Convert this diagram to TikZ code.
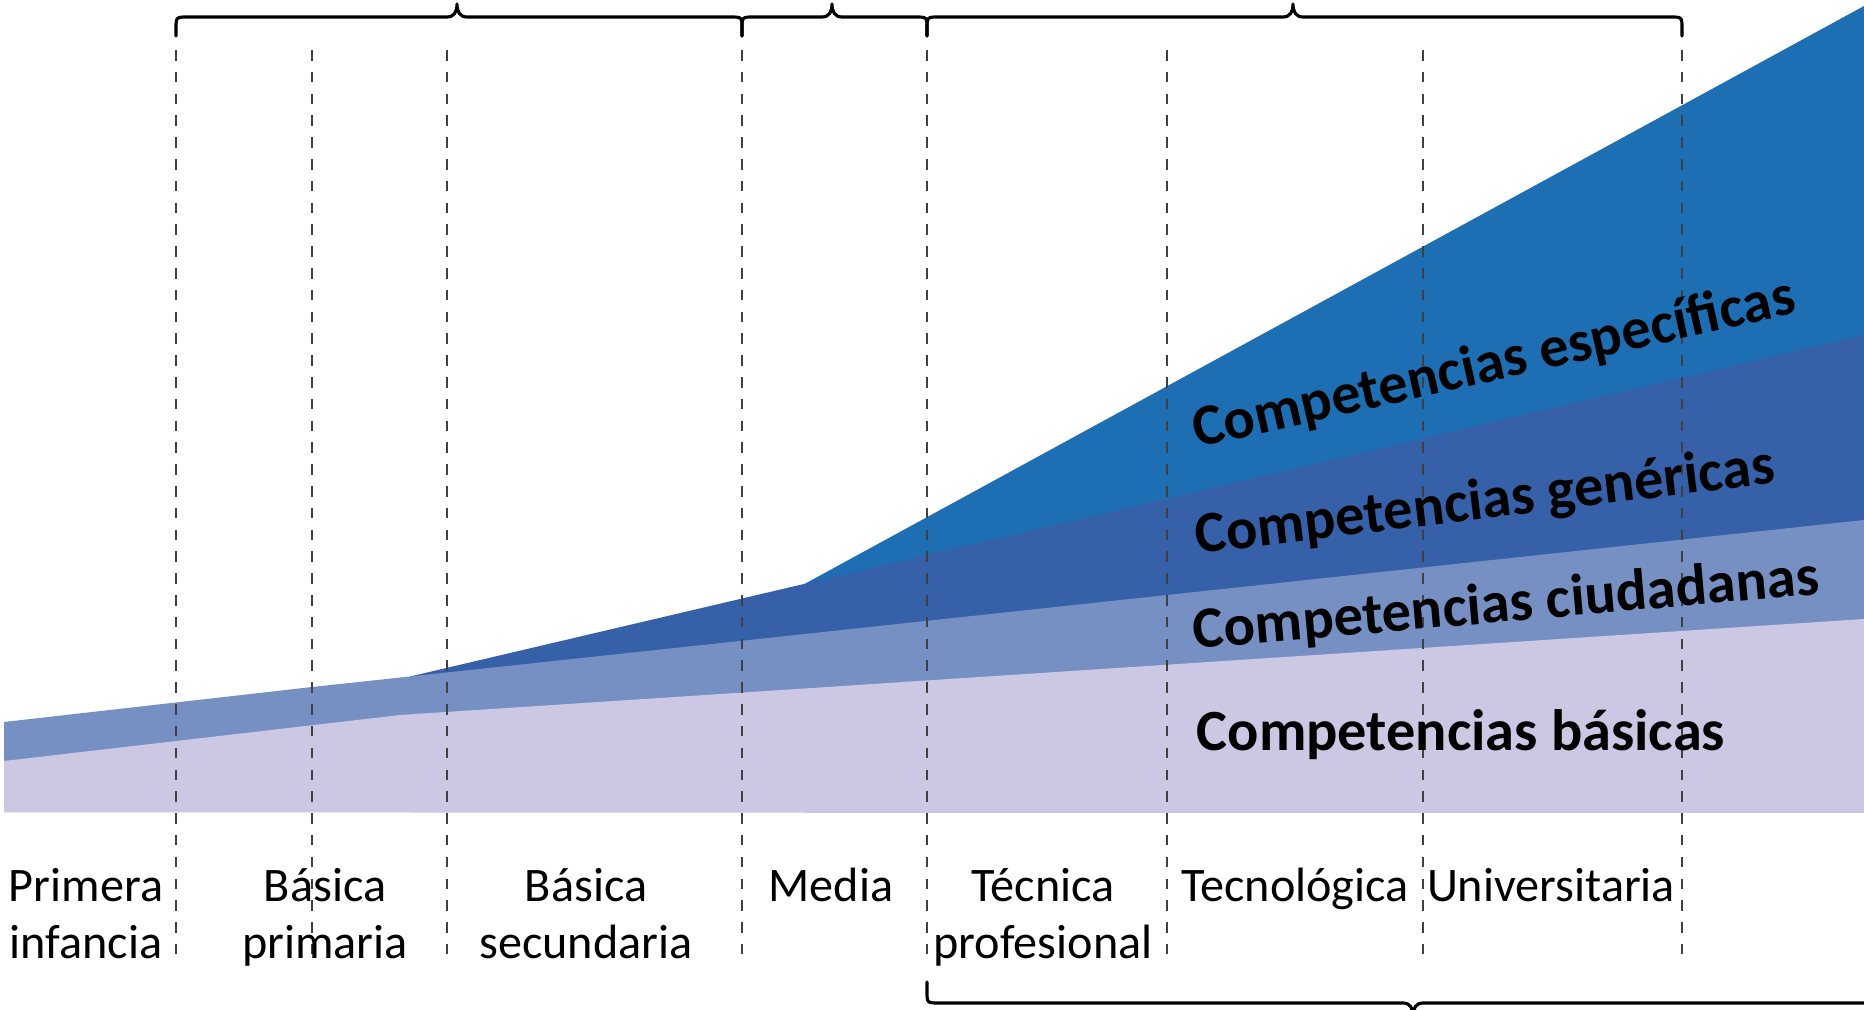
\documentclass[tikz,border=0pt]{standalone}
\usepackage{fontspec}
\setmainfont{Carlito}
\definecolor{cEsp}{HTML}{1E6EB4}
\definecolor{cGen}{HTML}{3660A8}
\definecolor{cCiu}{HTML}{7690C4}
\definecolor{cBas}{HTML}{CCC8E4}
\newcommand{\topbrace}[3]{%
  \draw[bracepath] (#1,36) -- (#1,29) .. controls (#1,17) .. (#1+12,17) -- (#2-10,17)
    .. controls (#2-3,17) and (#2,12) .. (#2,4)
    .. controls (#2,12) and (#2+3,17) .. (#2+10,17) -- (#3-12,17)
    .. controls (#3,17) .. (#3,29) -- (#3,36);}
\begin{document}
\begin{tikzpicture}[x=0.01cm,y=-0.01cm,
  guide/.style={draw=black!75, line width=0.6pt, dash pattern=on 3pt off 3.2pt},
  bracepath/.style={draw=black, line width=0.9pt, line join=round, line cap=round},
  lbl/.style={font=\fontsize{13.7}{16.2}\selectfont, inner sep=0pt, anchor=base},
  comp/.style={font=\fontsize{16.6}{20}\selectfont\bfseries, inner sep=0pt, anchor=base west}]
\useasboundingbox (0,0) rectangle (1864,1009);
\clip (0,0) rectangle (1864,1009);
\fill[white] (0,0) rectangle (1864,1009);
% layers
\fill[cEsp] (805,583.7) -- (1864,6) -- (1864,812) -- (805,812) -- cycle;
\fill[cGen] (410,676.5) -- (1864,335) -- (1864,812) -- (410,812) -- cycle;
\fill[cCiu] (4,812) -- (4,722) -- (312,687) -- (1864,520) -- (1864,812) -- cycle;
\fill[cBas] (4,812) -- (4,761) -- (400,715) -- (1864,619) -- (1864,812) -- cycle;
% dashed guides
\foreach \x/\n in {176/d1, 312/d2, 447/d3, 742/d4, 927/d5, 1167/d6, 1423/d7, 1682/d8} {
  \coordinate (\n t) at (\x,50);
  \coordinate (\n b) at (\x,960);
  \draw[guide] (\n t) -- (\n b);
}
% braces
\topbrace{176}{457}{742}
\topbrace{742}{832}{927}
\topbrace{927}{1293}{1682}
\draw[bracepath] (927,982) -- (927,991) .. controls (927,1003) .. (939,1003) -- (1403,1003)
  .. controls (1410,1003) and (1413,1008) .. (1413,1016)
  .. controls (1413,1008) and (1416,1003) .. (1423,1003) -- (1890,1003);
% competence labels
\node[comp] (cb) at (1196,750) {Competencias básicas};
\node[comp, rotate=5] (cc) at (1194,649) {Competencias ciudadanas};
\node[comp, rotate=7] (cg) at (1197,554) {Competencias genéricas};
\node[comp, rotate=12.7] (ce) at (1197,448) {Competencias específicas};
% level labels
\node[lbl] (pi1) at (86,901) {Primera};
\node[lbl] (pi2) at (86,958) {infancia};
\node[lbl] (bp1) at (325,901) {Básica};
\node[lbl] (bp2) at (325,958) {primaria};
\node[lbl] (bs1) at (586,901) {Básica};
\node[lbl] (bs2) at (586,958) {secundaria};
\node[lbl] (me1) at (831,901) {Media};
\node[lbl] (tp1) at (1043,901) {Técnica};
\node[lbl] (tp2) at (1043,958) {profesional};
\node[lbl] (te1) at (1295,901) {Tecnológica};
\node[lbl] (un1) at (1551,901) {Universitaria};
\end{tikzpicture}
\end{document}
